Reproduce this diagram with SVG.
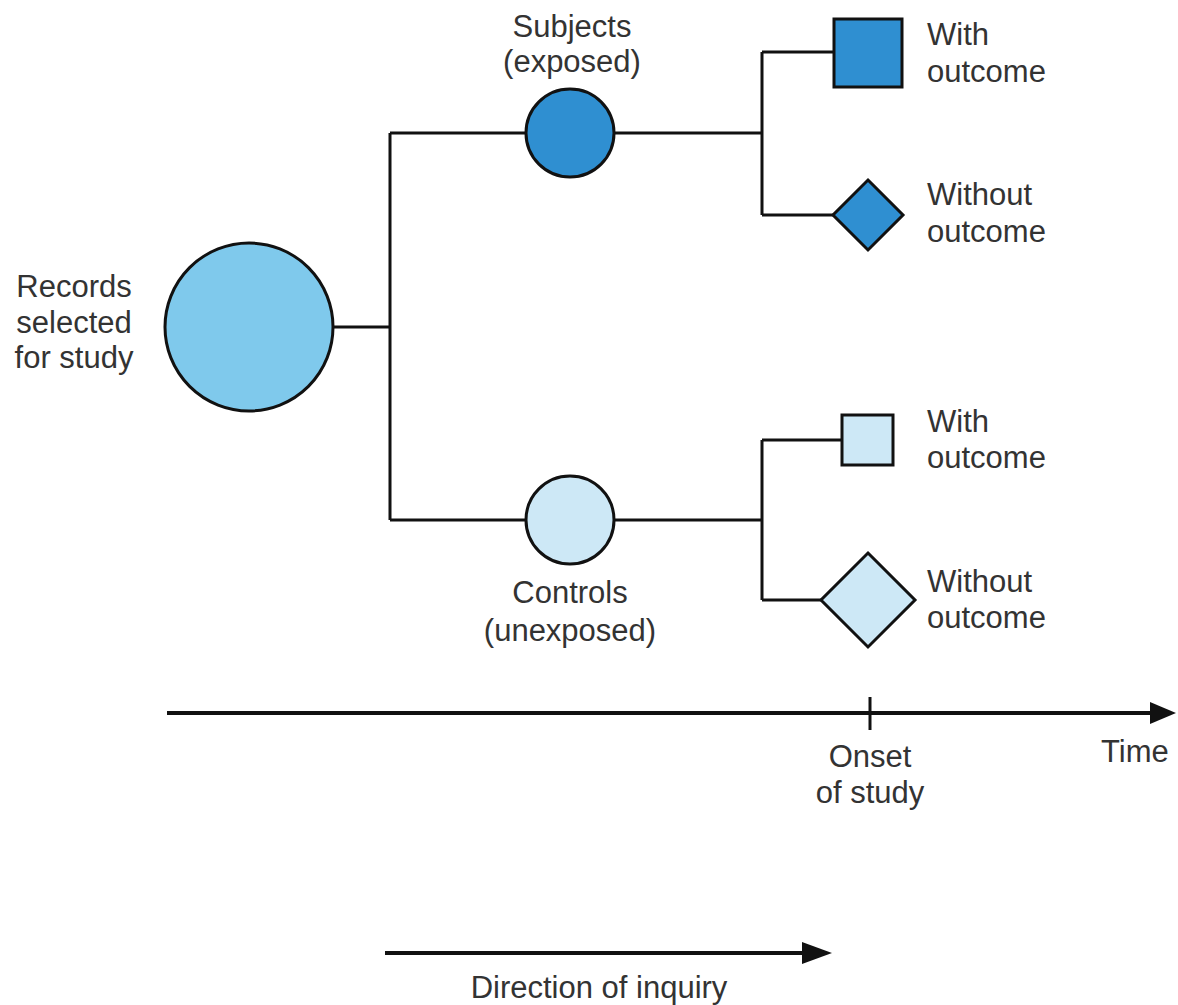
<svg xmlns="http://www.w3.org/2000/svg" width="1178" height="1005" viewBox="0 0 1178 1005">
<defs>
<style>
text{font-family:"Liberation Sans",Arial,sans-serif;font-size:31px;fill:#333}
.c{text-anchor:middle}
.sh{stroke:#111;stroke-width:3}
.ln{fill:none;stroke:#111;stroke-width:3}
.ax{fill:none;stroke:#111;stroke-width:4}
.mid{fill:#7fc9ec}
.dark{fill:#2f8fd1}
.light{fill:#cde8f6}
</style>
<marker id="ah" markerWidth="10" markerHeight="10" refX="0" refY="5" orient="auto" markerUnits="userSpaceOnUse" viewBox="0 0 10 10"><path d="M0,0 L10,5 L0,10 Z" fill="#111"/></marker>
</defs>
<rect width="1178" height="1005" fill="#fff"/>
<g id="connectors">
<path class="ln" d="M333,327 H390 M390,133 V520 M390,133 H526 M390,520 H526"/>
<path class="ln" d="M614,133 H762 M762,52 V215 M762,52 H833 M762,215 H833"/>
<path class="ln" d="M614,520 H762 M762,440 V600 M762,440 H842 M762,600 H822"/>
</g>
<g id="records">
<circle class="mid sh" cx="249" cy="327" r="84"/>
<text class="c" x="74" y="297">Records</text>
<text class="c" x="74" y="333">selected</text>
<text class="c" x="74" y="368">for study</text>
</g>
<g id="subjects">
<circle class="dark sh" cx="570" cy="133" r="44"/>
<text class="c" x="572" y="37">Subjects</text>
<text class="c" x="572" y="72">(exposed)</text>
</g>
<g id="controls">
<circle class="light sh" cx="570" cy="520" r="44"/>
<text class="c" x="570" y="603">Controls</text>
<text class="c" x="570" y="641">(unexposed)</text>
</g>
<g id="exposed-with">
<rect class="dark sh" x="834" y="19" width="68" height="68"/>
<text x="927" y="45">With</text>
<text x="927" y="82">outcome</text>
</g>
<g id="exposed-without">
<polygon class="dark sh" points="868,180 903,215 868,250 833,215"/>
<text x="927" y="205">Without</text>
<text x="927" y="242">outcome</text>
</g>
<g id="unexposed-with">
<rect class="light sh" x="842" y="415" width="51" height="50"/>
<text x="927" y="432">With</text>
<text x="927" y="468">outcome</text>
</g>
<g id="unexposed-without">
<polygon class="light sh" points="868,553 915,600 868,647 821,600"/>
<text x="927" y="592">Without</text>
<text x="927" y="628">outcome</text>
</g>
<g id="time-axis">
<line class="ax" x1="167" y1="713" x2="1150" y2="713"/>
<path d="M1150,702 L1176,713 L1150,724 Z" fill="#111"/>
<line class="ln" x1="870" y1="697" x2="870" y2="730"/>
<text class="c" x="870" y="767">Onset</text>
<text class="c" x="870" y="803">of study</text>
<text x="1101" y="762">Time</text>
</g>
<g id="inquiry">
<line class="ax" x1="385" y1="953" x2="803" y2="953"/>
<path d="M802,942 L832,953 L802,964 Z" fill="#111"/>
<text class="c" x="599" y="998">Direction of inquiry</text>
</g>
</svg>
